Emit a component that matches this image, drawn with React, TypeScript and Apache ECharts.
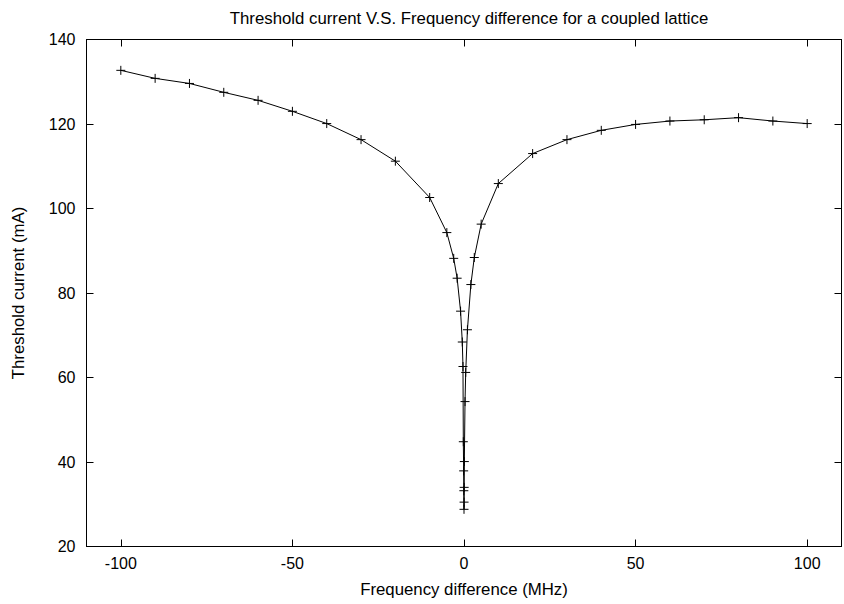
import React, { useEffect, useRef } from "react";
import * as echarts from "echarts";

const freqDiff = [
  -100, -90, -80, -70, -60, -50, -40, -30, -20, -10, -5, -3, -2, -1, -0.5, -0.3,
  -0.2, -0.1, -0.05, 0, 0.02, 0.05, 0.1, 0.3, 0.5, 1, 2, 3, 5, 10, 20, 30, 40, 50,
  60, 70, 80, 90, 100,
];
const thresholdCurrent = [
  132.7, 130.8, 129.6, 127.5, 125.6, 123.0, 120.1, 116.3, 111.2, 102.6, 94.3, 88.2,
  83.5, 75.7, 68.4, 62.6, 44.8, 37.9, 33.2, 28.8, 30.5, 34.0, 40.1, 54.3, 61.2,
  71.3, 82.0, 88.4, 96.3, 105.9, 113.0, 116.3, 118.5, 119.9, 120.7, 121.0, 121.5,
  120.7, 120.1,
];
const xTicks = [-100, -50, 0, 50, 100];

const FONT = "'Liberation Sans', Arial, sans-serif";
const FS = 16;
const FS_NAME = 16.8;

export default function App() {
  const ref = useRef<HTMLDivElement>(null);
  useEffect(() => {
    if (!ref.current) return;
    const chart = echarts.init(ref.current, null, { renderer: "svg" });
    const axisLine = { show: true, onZero: false, lineStyle: { color: "#000", width: 1 } };
    const tickStyle = { inside: true, length: 7, lineStyle: { color: "#000", width: 1 } };
    const labelStyle = { color: "#000", fontSize: FS, fontFamily: FONT };
    chart.setOption({
      animation: false,
      backgroundColor: "#fff",
      textStyle: { fontFamily: FONT },
      title: {
        text: "Threshold current V.S. Frequency difference for a coupled lattice",
        left: 464,
        textAlign: "center",
        top: 5,
        textStyle: { color: "#000", fontSize: FS_NAME, fontWeight: "normal", fontFamily: FONT },
      },
      grid: { left: 86.5, right: 2.5, top: 39.5, bottom: 57.5, containLabel: false },
      xAxis: [
        {
          type: "value",
          min: -110,
          max: 110,
          position: "bottom",
          axisLine,
          axisTick: { ...tickStyle, customValues: xTicks },
          axisLabel: { ...labelStyle, margin: 9, customValues: xTicks },
          splitLine: { show: false },
          name: "Frequency difference (MHz)",
          nameLocation: "middle",
          nameGap: 34,
          nameTextStyle: { color: "#000", fontSize: FS_NAME, fontFamily: FONT },
        },
        {
          type: "value",
          min: -110,
          max: 110,
          position: "top",
          axisLine,
          axisTick: { ...tickStyle, customValues: xTicks },
          axisLabel: { show: false },
          splitLine: { show: false },
        },
      ],
      yAxis: [
        {
          type: "value",
          min: 20,
          max: 140,
          interval: 20,
          position: "left",
          axisLine,
          axisTick: tickStyle,
          axisLabel: { ...labelStyle, margin: 11 },
          splitLine: { show: false },
          name: "Threshold current (mA)",
          nameLocation: "middle",
          nameGap: 60,
          nameTextStyle: { color: "#000", fontSize: FS_NAME, fontFamily: FONT },
        },
        {
          type: "value",
          min: 20,
          max: 140,
          interval: 20,
          position: "right",
          axisLine,
          axisTick: tickStyle,
          axisLabel: { show: false },
          splitLine: { show: false },
        },
      ],
      series: [
        {
          type: "line",
          xAxisIndex: 0,
          yAxisIndex: 0,
          data: freqDiff.map((x, i) => [x, thresholdCurrent[i]]),
          symbol: "path://M0,4.5L9,4.5M4.5,0L4.5,9",
          symbolSize: 9,
          showSymbol: true,
          itemStyle: { color: "rgba(0,0,0,0)", borderColor: "#000", borderWidth: 1 },
          lineStyle: { color: "#000", width: 1 },
        },
      ],
    });
    return () => chart.dispose();
  }, []);
  return <div ref={ref} style={{ width: 844, height: 604, position: "absolute", left: 0, top: 0 }} />;
}
